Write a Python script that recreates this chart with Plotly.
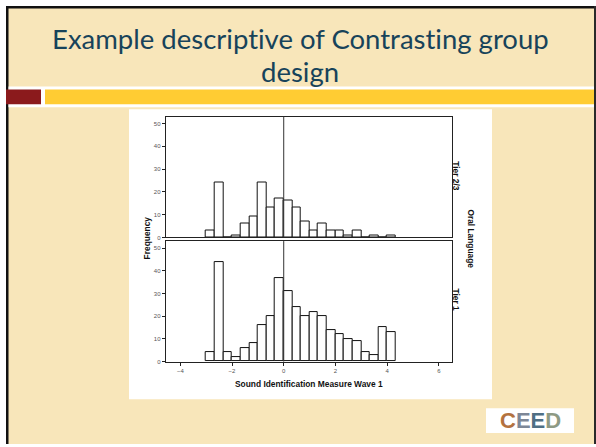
import plotly.graph_objects as go

W, H = 596, 447

# Histogram bins (width 1/3) of Sound Identification Measure Wave 1
bin_width = 1 / 3
bin_starts = [-3 + k / 3 for k in range(22)]
bin_centres = [b + bin_width / 2 for b in bin_starts]

# Frequencies per bin for each Oral Language group
tier23_freq = [3, 24, 0, 1, 6, 9, 24, 13, 17, 16, 13, 7, 3, 6, 3, 3, 1, 3, 0, 1, 0, 1]
tier1_freq = [4, 44, 4, 2, 6, 8, 16, 20, 37, 31, 24, 20, 22, 20, 14, 12, 10, 9, 4, 3, 15, 13]

x_ticks = [-4, -2, 0, 2, 4, 6]
y_ticks = [0, 10, 20, 30, 40, 50]

title_lines = ["Example descriptive of Contrasting group", "design"]
x_title = "Sound Identification Measure Wave 1"
y_title = "Frequency"
facet_title = "Oral Language"
panel_labels = ["Tier 2/3", "Tier 1"]


def px(x):
    return x / W


def py(y):
    return 1 - y / H


BG = "#F8E6BA"
AXIS = "#222222"
TICKFONT = dict(family="Liberation Sans, Arial", size=6, color="#555555")

fig = go.Figure()

bar_style = dict(marker=dict(color="white", line=dict(color="#111111", width=1)),
                 width=bin_width, showlegend=False, hoverinfo="x+y")
fig.add_trace(go.Bar(x=bin_centres, y=tier23_freq, xaxis="x2", yaxis="y2", **bar_style))
fig.add_trace(go.Bar(x=bin_centres, y=tier1_freq, xaxis="x", yaxis="y", **bar_style))

x_dom = [px(165.7), px(451.5)]
x_rng = [-4.565, 6.49]
common_y = dict(range=[0, 53.1], tickvals=y_ticks, ticks="outside", ticklen=3,
                tickcolor=AXIS, tickwidth=1, showline=True, linecolor=AXIS,
                linewidth=1, mirror=True, showgrid=False, zeroline=False,
                tickfont=TICKFONT, fixedrange=True)
common_x = dict(range=x_rng, domain=x_dom, showline=True, linecolor=AXIS,
                linewidth=1, mirror=True, showgrid=False, zeroline=False,
                fixedrange=True)

fig.update_layout(
    width=W, height=H,
    margin=dict(l=0, r=0, t=0, b=0),
    paper_bgcolor="white",
    plot_bgcolor="white",
    bargap=0,
    xaxis=dict(anchor="y", tickvals=x_ticks, ticks="outside", ticklen=3,
               tickcolor=AXIS, tickwidth=1, tickfont=TICKFONT, **common_x),
    xaxis2=dict(anchor="y2", matches="x", showticklabels=False, ticks="", **common_x),
    yaxis=dict(domain=[py(364), py(242.7)], anchor="x", **common_y),
    yaxis2=dict(domain=[py(239), py(117.3)], anchor="x2", **common_y),
)

shapes = [
    # slide background with dark edge
    dict(type="rect", xref="paper", yref="paper", x0=px(6), x1=1, y0=0, y1=py(6),
         fillcolor=BG, line=dict(width=0), layer="below"),
    dict(type="rect", xref="paper", yref="paper", x0=px(6), x1=px(8.5), y0=0, y1=py(6),
         fillcolor="#111111", line=dict(width=0), layer="below"),
    dict(type="rect", xref="paper", yref="paper", x0=px(6), x1=1, y0=py(8.5), y1=py(6),
         fillcolor="#111111", line=dict(width=0), layer="below"),
    dict(type="rect", xref="paper", yref="paper", x0=px(594), x1=1, y0=0, y1=py(6),
         fillcolor="#2a2a2a", line=dict(width=0), layer="below"),
    # band under the title
    dict(type="rect", xref="paper", yref="paper", x0=px(8.5), x1=px(594), y0=py(108), y1=py(87),
         fillcolor="white", line=dict(width=0), layer="below"),
    dict(type="rect", xref="paper", yref="paper", x0=px(6), x1=px(41), y0=py(105), y1=py(90),
         fillcolor="#8B1A1C", line=dict(width=0), layer="below"),
    dict(type="rect", xref="paper", yref="paper", x0=px(45), x1=px(594), y0=py(105), y1=py(90),
         fillcolor="#FFCC33", line=dict(width=0), layer="below"),
    # white chart card
    dict(type="rect", xref="paper", yref="paper", x0=px(129), x1=px(492), y0=py(402), y1=py(110),
         fillcolor="white", line=dict(width=0), layer="below"),
    # logo card
    dict(type="rect", xref="paper", yref="paper", x0=px(486), x1=px(574), y0=py(436), y1=py(411),
         fillcolor="white", line=dict(width=0), layer="below"),
    # reference line at zero in each panel
    dict(type="line", xref="x", yref="y domain", x0=0, x1=0, y0=0, y1=1,
         line=dict(color="#333333", width=1)),
    dict(type="line", xref="x2", yref="y2 domain", x0=0, x1=0, y0=0, y1=1,
         line=dict(color="#333333", width=1)),
]
fig.update_layout(shapes=shapes)

TITLE_FONT = dict(family="Lato, Open Sans, sans-serif", size=27.5, color="#17435A")
LABEL_FONT = dict(family="Liberation Sans, Arial", size=8.4, color="#111111")


def no_lig(s):
    return "<span style='font-variant-ligatures:none'>" + s + "</span>"


annotations = [
    dict(text=no_lig(title_lines[0]), x=px(300), y=py(39), xref="paper", yref="paper",
         xanchor="center", yanchor="middle", showarrow=False, font=TITLE_FONT),
    dict(text=no_lig(title_lines[1]), x=px(300), y=py(71.5), xref="paper", yref="paper",
         xanchor="center", yanchor="middle", showarrow=False, font=TITLE_FONT),
    dict(text="<b>" + x_title + "</b>", x=px(308.5), y=py(386.5), xref="paper", yref="paper",
         xanchor="center", yanchor="middle", showarrow=False, font=LABEL_FONT),
    dict(text="<b>" + y_title + "</b>", x=px(147), y=py(240), xref="paper", yref="paper",
         xanchor="center", yanchor="middle", showarrow=False, textangle=-90, font=LABEL_FONT),
    dict(text="<b>" + panel_labels[0] + "</b>", x=px(456.5), y=py(177), xref="paper", yref="paper",
         xanchor="center", yanchor="middle", showarrow=False, textangle=90, font=LABEL_FONT),
    dict(text="<b>" + panel_labels[1] + "</b>", x=px(456.5), y=py(302), xref="paper", yref="paper",
         xanchor="center", yanchor="middle", showarrow=False, textangle=90, font=LABEL_FONT),
    dict(text="<b>" + facet_title + "</b>", x=px(471), y=py(240), xref="paper", yref="paper",
         xanchor="center", yanchor="middle", showarrow=False, textangle=90, font=LABEL_FONT),
    dict(text=("<b><span style='color:#B4723E'>C</span>"
               "<span style='color:#7D8797'>E</span>"
               "<span style='color:#4F6F84'>E</span>"
               "<span style='color:#8E9A84'>D</span></b>"),
         x=px(530), y=py(423.5), xref="paper", yref="paper", xanchor="center", yanchor="middle",
         showarrow=False, font=dict(family="Liberation Sans, Arial", size=22)),
]
fig.update_layout(annotations=annotations)

fig.write_html("out.html")
